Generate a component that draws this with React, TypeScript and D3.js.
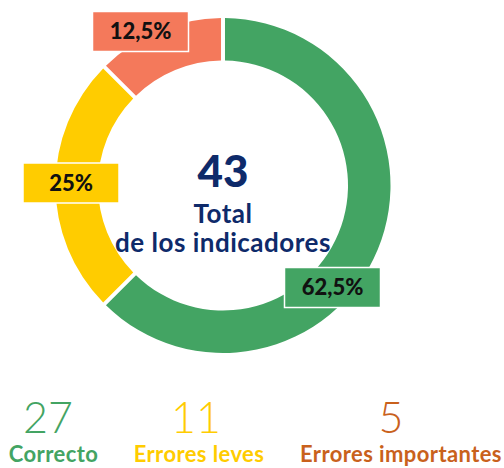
import React from "react";
import * as d3 from "d3";

const categories = ["Correcto", "Errores leves", "Errores importantes"];
const counts = [27, 11, 5];
const shares = [62.5, 25, 12.5];
const shareLabels = ["62,5%", "25%", "12,5%"];
const totalValue = 43;
const centerLines = ["Total", "de los indicadores"];

const sliceColors = ["#43A463", "#FFCC00", "#F4795B"];
const legendColors = ["#43A463", "#FFCC00", "#C9611C"];
const labelCenters: [number, number][] = [
  [332.5, 287.5],
  [71, 183],
  [140.5, 31.5],
];
const legendX = [[48, 53.5], [196, 199], [391, 401]];

const W = 504;
const H = 468;
const cx = 223;
const cy = 185.5;
const outerR = 167.5;
const innerR = 125;
const font = "Lato, 'Open Sans', 'DejaVu Sans', sans-serif";

export default function App() {
  const pie = d3
    .pie<number>()
    .sort(null)
    .value((d) => d);
  const arcs = pie(shares);
  const arc = d3
    .arc<d3.PieArcDatum<number>>()
    .innerRadius(innerR)
    .outerRadius(outerR)
    .padAngle(0.019)
    .padRadius(Math.sqrt(innerR * innerR + outerR * outerR));
  const boxW = 96;
  const boxH = 40;
  return (
    <svg
      width={W}
      height={H}
      style={{ position: "absolute", left: 0, top: 0, background: "#fff" }}
    >
      <g transform={`translate(${cx},${cy})`}>
        {arcs.map((a, i) => (
          <path key={i} d={arc(a) || ""} fill={sliceColors[i]} />
        ))}
      </g>
      {labelCenters.map(([x, y], i) => (
        <g key={i}>
          <rect
            x={x - boxW / 2}
            y={y - boxH / 2}
            width={boxW}
            height={boxH}
            fill={sliceColors[i]}
            stroke="#fff"
            strokeWidth={1.5}
          />
          <text
            x={x}
            y={y + 7.5}
            textAnchor="middle"
            fontFamily={font}
            fontWeight={900}
            fontSize={22}
            fill="#111"
          >
            {shareLabels[i]}
          </text>
        </g>
      ))}
      <text
        x={cx}
        y={187}
        textAnchor="middle"
        fontFamily={font}
        fontWeight={900}
        fontSize={44}
        fill="#0E2A6A"
      >
        {totalValue}
      </text>
      {centerLines.map((t, i) => (
        <text
          key={i}
          x={cx}
          y={223 + i * 29}
          textAnchor="middle"
          fontFamily={font}
          fontWeight={700}
          fontSize={26}
          letterSpacing={0.5}
          fill="#0E2A6A"
        >
          {t}
        </text>
      ))}
      {categories.map((c, i) => (
        <g key={c}>
          <text
            x={legendX[i][0]}
            y={433}
            textAnchor="middle"
            fontFamily={font}
            fontWeight={300}
            fontSize={43}
            fill={legendColors[i]}
          >
            {counts[i]}
          </text>
          <text
            x={legendX[i][1]}
            y={462}
            textAnchor="middle"
            fontFamily={font}
            fontWeight={700}
            fontSize={22}
            letterSpacing={0.4}
            fill={legendColors[i]}
          >
            {c}
          </text>
        </g>
      ))}
    </svg>
  );
}
